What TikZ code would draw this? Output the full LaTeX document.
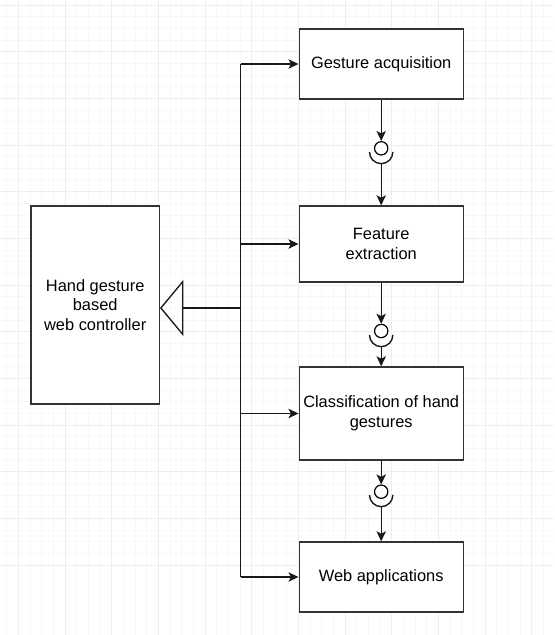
\documentclass[tikz,border=0pt]{standalone}
\usepackage{fontspec}
\setmainfont{Liberation Sans}
\usepackage{tikz}
\usetikzlibrary{arrows.meta}
\definecolor{gridmin}{HTML}{F8F8F8}
\definecolor{gridmaj}{HTML}{EEEEEE}
\definecolor{edge}{HTML}{333333}

\begin{document}
\begin{tikzpicture}[x=0.75pt, y=-0.75pt, every node/.style={font=\fontsize{12.3}{14.7}\selectfont, align=center}, >={Stealth[length=7.5pt, width=7pt, inset=1.8pt]}, blk/.style={draw=edge, line width=1pt, fill=white, minimum width=123pt, inner sep=2pt}, ifc/.style={draw, line width=0.9pt, circle, fill=white, minimum size=10pt, inner sep=0pt}, plain/.style={line width=1.05pt, black!90}]
	\useasboundingbox (0,0) rectangle (554,635);
	\foreach \k in {0,...,47} {
		\draw[gridmin, line width=0.5pt] ({6.67+\k*11.667},0) -- ++(0,635);
		\draw[gridmin, line width=0.5pt] (0,{5+\k*11.667}) -- ++(554,0);
	}
	\foreach \k in {0,...,12} {
		\draw[gridmaj, line width=0.6pt] ({18.33+\k*46.667},0) -- ++(0,635);
		\draw[gridmaj, line width=0.6pt] (0,{5+\k*46.667}) -- ++(554,0);
	}

	\node[blk, minimum height=52.5pt] (acq) at (381.2,64) {Gesture acquisition};
	\node[blk, minimum height=57pt] (feat) at (381.2,244) {Feature\\extraction};
	\node[blk, minimum height=69.75pt] (cls) at (381.2,413.5) {Classification of hand\\gestures};
	\node[blk, minimum height=52.5pt] (web) at (381.2,577) {Web applications};
	\node[blk, minimum width=96.2pt, minimum height=148.5pt] (ctrl) at (95.2,305) {Hand gesture\\based\\web controller};

	\node[ifc] (ifc1) at (381.2,148.3) {};
	\node[ifc] (ifc2) at (381.2,331) {};
	\node[ifc] (ifc3) at (381.2,491.7) {};
	\coordinate (sk1) at (369.5,152);
	\coordinate (sk2) at (369.5,335);
	\coordinate (sk3) at (369.5,495);
	\coordinate (sk1b) at (381.2,163.7);
	\coordinate (sk2b) at (381.2,346.7);
	\coordinate (sk3b) at (381.2,506.7);

	\draw[plain, ->] (acq) -- (ifc1);
	\draw[plain, ->] (feat) -- (ifc2);
	\draw[plain, ->] (cls) -- (ifc3);
	\foreach \s in {sk1,sk2,sk3}
		\draw[plain] (\s) arc[start angle=180, end angle=360, radius=8.75pt];
	\draw[plain, ->] (sk1b) -- (feat);
	\draw[plain, ->] (sk2b) -- (cls);
	\draw[plain, ->] (sk3b) -- (web);

	\coordinate (bt) at (240.5,64);
	\coordinate (bb) at (240.5,577);
	\coordinate (j) at (240.5,308);
	\draw[plain] (bt) -- (bb);
	\draw[plain, ->] (bt) -- (acq);
	\draw[plain, ->] (bt |- feat) -- (feat);
	\draw[plain, ->] (bt |- cls) -- (cls);
	\draw[plain, ->] (bb) -- (web);
	\draw[plain, line width=1.5pt, -{Triangle[open, length=17.5pt, width=42pt, line width=1pt]}] (j) -- (ctrl.east |- j);
\end{tikzpicture}
\end{document}
